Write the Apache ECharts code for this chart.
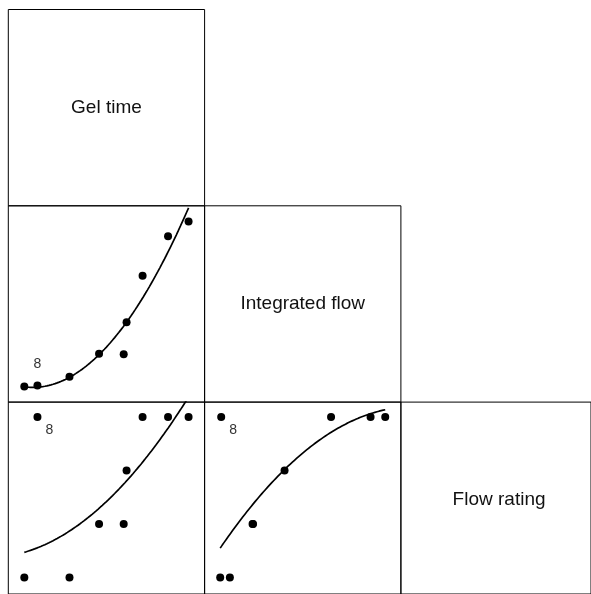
<!DOCTYPE html>
<html>
<head>
<meta charset="utf-8">
<script src="https://cdn.jsdelivr.net/npm/echarts@6/dist/echarts.min.js"></script>
<style>
  html, body { margin: 0; padding: 0; background: #fff; }
  #main { width: 591px; height: 594px; }
</style>
</head>
<body>
<div id="main"></div>
<script>
// observations (obs 8 is the labelled one)
const obs = [1, 2, 3, 4, 5, 6, 7, 8, 9];
const gelTime = [20.0, 31.0, 38.2, 44.2, 44.9, 48.8, 55.0, 23.2, 60.0];
const integratedFlow = [10.0, 15.8, 29.7, 29.4, 48.6, 76.5, 100.2, 10.6, 109.0];
const flowRating = [1, 1, 2, 2, 3, 4, 4, 4, 4];
const varNames = ["Gel time", "Integrated flow", "Flow rating"];
const varRangeMin = [16.1, 0.64, 0.693];
const varRangeMax = [63.9, 118.4, 4.278];
const labelledObs = 8;

// fitted curves for flow rating
const fitGelX = [20.0, 31.05, 38.25, 44.91, 50.58, 54.96, 59.34, 60.0];
const fitGelFR = [1.49, 1.84, 2.28, 2.81, 3.37, 3.81, 4.28, 4.35];
const fitIfX = [10.0, 19.9, 29.9, 39.9, 48.5, 57.9, 67.9, 77.9, 87.9, 97.9, 109.0];
const fitIfFR = [1.51, 2.0, 2.42, 2.76, 3.01, 3.27, 3.51, 3.73, 3.90, 4.04, 4.15];

const vars = [gelTime, integratedFlow, flowRating];

// quadratic least-squares fit, sampled over the x range
function qfit(xs, ys) {
  let n = xs.length, s1 = 0, s2 = 0, s3 = 0, s4 = 0, t0 = 0, t1 = 0, t2 = 0;
  for (let i = 0; i < n; i++) {
    const x = xs[i], y = ys[i];
    s1 += x; s2 += x * x; s3 += x * x * x; s4 += x * x * x * x;
    t0 += y; t1 += x * y; t2 += x * x * y;
  }
  const m = [[n, s1, s2, t0], [s1, s2, s3, t1], [s2, s3, s4, t2]];
  for (let i = 0; i < 3; i++) {
    for (let k = i + 1; k < 3; k++) {
      const f = m[k][i] / m[i][i];
      for (let j = i; j < 4; j++) m[k][j] -= f * m[i][j];
    }
  }
  const b = [0, 0, 0];
  for (let i = 2; i >= 0; i--) {
    let s = m[i][3];
    for (let j = i + 1; j < 3; j++) s -= m[i][j] * b[j];
    b[i] = s / m[i][i];
  }
  const lo = Math.min(...xs), hi = Math.max(...xs);
  const pts = [];
  for (let i = 0; i <= 80; i++) {
    const x = lo + (hi - lo) * i / 80;
    pts.push([x, b[0] + b[1] * x + b[2] * x * x]);
  }
  return pts;
}

function fitFor(r, c) {
  if (r === 2 && c === 0) return qfit(fitGelX, fitGelFR);
  if (r === 2 && c === 1) return qfit(fitIfX, fitIfFR);
  return qfit(vars[c], vars[r]);
}

const S = 196.3, L0 = 8.3, T0 = 9.5;
const grid = [], xAxis = [], yAxis = [], series = [], graphic = [];
let gi = 0;

for (let r = 0; r < 3; r++) {
  for (let c = 0; c <= r; c++) {
    grid.push({
      left: L0 + c * S, top: T0 + r * S, width: S, height: S,
      show: true, borderColor: "#000", borderWidth: 1, backgroundColor: "transparent"
    });
    xAxis.push({ gridIndex: gi, type: "value", show: false, min: varRangeMin[c], max: varRangeMax[c] });
    yAxis.push({ gridIndex: gi, type: "value", show: false, min: varRangeMin[r], max: varRangeMax[r] });
    if (r === c) {
      graphic.push({
        type: "text",
        x: L0 + c * S + S / 2, y: T0 + r * S + S / 2,
        style: {
          text: varNames[r], fill: "#111",
          font: "19px 'Liberation Sans', Arial, sans-serif",
          textAlign: "center", textVerticalAlign: "middle"
        }
      });
    } else {
      const xs = vars[c], ys = vars[r];
      const off = r === 1 ? [0, -21] : [12, 13];
      const pts = xs.map((x, i) => {
        const item = { value: [x, ys[i]] };
        if (obs[i] === labelledObs) {
          item.label = { show: true, formatter: String(obs[i]), position: "inside", offset: off };
        }
        return item;
      });
      series.push({
        type: "line", xAxisIndex: gi, yAxisIndex: gi,
        data: fitFor(r, c), showSymbol: false, smooth: false, clip: true,
        lineStyle: { color: "#000", width: 1.7 }, silent: true, z: 2
      });
      series.push({
        type: "scatter", xAxisIndex: gi, yAxisIndex: gi,
        data: pts, symbolSize: 8, itemStyle: { color: "#000", opacity: 1 },
        label: {
          show: false, color: "#333", fontSize: 14,
          fontFamily: "'Liberation Sans', Arial, sans-serif"
        },
        z: 3
      });
    }
    gi++;
  }
}

const myChart = echarts.init(document.getElementById("main"));
myChart.setOption({
  animation: false,
  backgroundColor: "#fff",
  grid: grid,
  xAxis: xAxis,
  yAxis: yAxis,
  series: series,
  graphic: graphic
});
</script>
</body>
</html>
